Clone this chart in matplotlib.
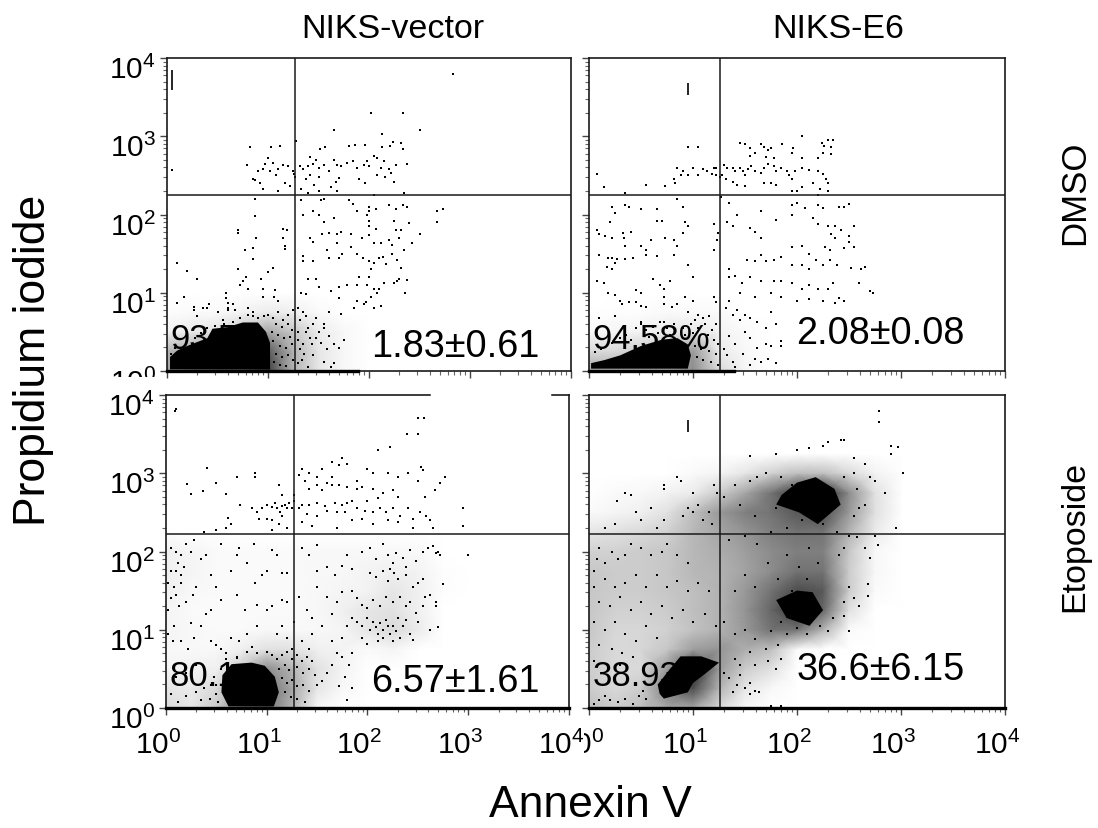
import matplotlib
matplotlib.use('Agg')
import matplotlib.pyplot as plt
from matplotlib.ticker import LogLocator, NullFormatter
from matplotlib.transforms import Bbox, ScaledTranslation
import numpy as np

plt.rcParams['font.family'] = ['Liberation Sans', 'DejaVu Sans']
plt.rcParams['mathtext.fontset'] = 'custom'
plt.rcParams['mathtext.rm'] = 'Liberation Sans'
plt.rcParams['mathtext.default'] = 'rm'

col_titles = ['NIKS-vector', 'NIKS-E6']
row_titles = ['DMSO', 'Etoposide']
x_title = 'Annexin V'
y_title = 'Propidium iodide'
decades = [0, 1, 2, 3, 4]

corner_text = ['93.5', '94.58%', '80.1', '38.93']
early_text = ['1.83±0.61', '2.08±0.08', '6.57±1.61', '36.6±6.15']
gate_x = [1.27, 1.26, 1.27, 1.26]
gate_y = [2.25, 2.25, 2.22, 2.22]
floor_end = [1.89, 1.39, 4.0, 4.0]

dots_a = [(2.83,3.80),(2.02,3.30),(2.34,3.30),(2.50,3.08),(1.65,3.08),(2.13,3.03),(2.24,2.93),(2.32,2.91),(2.34,2.84),
    (2.13,2.86),(2.21,2.87),(0.82,2.86),(1.03,2.86),(1.12,2.87),(1.28,2.94),(1.51,2.84),(1.56,2.86),(1.80,2.88),(1.86,2.89),
    (1.96,2.89),(0.05,2.57),(0.79,2.63),(1.0,2.72),(0.97,2.65),(1.05,2.66),(1.15,2.63),(1.2,2.62),(1.25,2.56),(1.27,2.48),
    (1.26,2.52),(0.9,2.56),(0.95,2.58),(1.02,2.55),(1.08,2.5),(1.1,2.58),(0.85,2.46),(0.87,2.44),(0.92,2.4),(0.95,2.33),
    (1.1,2.3),(1.17,2.4),(1.22,2.36),(1.32,2.62),(1.35,2.58),(1.4,2.62),(1.45,2.65),(1.48,2.7),(1.42,2.74),(1.5,2.6),
    (1.55,2.63),(1.6,2.55),(1.65,2.7),(1.68,2.63),(1.72,2.62),(1.78,2.66),(1.84,2.68),(1.88,2.6),(1.95,2.63),(1.98,2.68),
    (2.0,2.62),(2.08,2.72),(2.15,2.68),(2.05,2.75),(2.2,2.58),(2.27,2.63),(2.38,2.64),(2.12,2.6),(2.16,2.48),(2.08,2.5),
    (1.9,2.45),(1.96,2.4),(2.22,2.53),(1.7,2.47),(1.5,2.48),(1.42,2.5),(1.38,2.45),(1.46,2.38),(1.62,2.35),(1.67,2.42),
    (2.25,2.42),(2.35,2.28),(2.05,2.25),(1.33,2.33),(1.4,2.28),(1.68,2.3),(1.5,2.3),(0.87,2.2),(1.33,2.18),(1.52,2.18),
    (1.55,2.2),(1.8,2.18),(1.84,2.14),(1.88,2.05),(2.0,2.05),(2.0,2.1),(2.07,2.07),(2.2,2.12),(2.27,2.07),(2.34,2.12),
    (2.38,2.09),(2.67,2.05),(2.73,2.07),(2.67,1.9),(2.4,1.89),(2.25,1.92),(2.27,1.8),(2.32,1.8),(2.5,1.75),(1.98,2.0),
    (2.0,1.92),(2.0,1.85),(2.07,1.82),(1.65,1.96),(1.35,2.0),(1.45,2.05),(1.5,2.0),(1.55,1.9),(1.53,1.75),(1.6,1.76),
    (1.42,1.7),(1.45,1.65),(1.68,1.75),(1.72,1.77),(1.82,1.75),(1.93,1.7),(2.0,1.74),(2.05,1.63),(2.12,1.63),(2.2,1.68),
    (2.23,1.61),(2.3,1.7),(2.35,1.55),(2.43,1.63),(1.68,1.63),(1.73,1.5),(1.7,1.45),(1.6,1.45),(1.35,1.47),(1.35,1.4),
    (1.45,1.4),(1.58,1.55),(1.82,1.58),(1.88,1.5),(1.94,1.45),(2.0,1.4),(2.02,1.3),(2.05,1.38),(2.1,1.45),(2.14,1.46),
    (2.17,1.37),(2.23,1.5),(2.28,1.42),(2.32,1.32),(2.28,1.15),(2.25,1.12),(2.3,1.18),(2.38,1.16),(2.36,1.0),(2.15,1.13),
    (2.1,1.05),(2.05,1.05),(2.02,0.95),(2.08,1.0),(1.98,1.1),(2.0,1.2),(1.9,1.2),(1.88,1.1),(1.78,1.1),(1.7,1.07),
    (1.62,1.02),(1.5,1.07),(1.4,1.18),(1.48,1.17),(1.33,1.0),(1.38,0.98),(1.7,0.93),(1.88,0.9),(1.95,0.85),(1.97,0.88),
    (2.05,0.8),(2.12,0.83),(1.85,0.8),(1.72,0.73),(1.6,0.75),(1.55,0.6),(0.87,1.98),(0.7,1.8),(0.7,1.76),(1.15,1.82),
    (1.19,1.8),(0.88,1.7),(1.15,1.7),(1.17,1.6),(1.17,1.56),(0.77,1.55),(0.85,1.57),(0.85,1.43),(1.05,1.32),(1.0,1.27),
    (0.7,1.3),(0.1,1.38),(0.2,1.28),(0.3,1.17),(0.75,1.15),(0.78,1.2),(0.72,1.1),(0.8,1.05),(0.93,1.18),(0.95,1.05),
    (1.07,1.03),(1.06,0.95),(1.1,0.9),(0.58,1.0),(0.58,0.93),(0.6,0.87),(0.17,0.95),(0.1,0.87),(0.27,0.82),(0.27,0.78),
    (0.42,0.85),(0.4,0.8),(0.36,0.8),(0.6,0.8),(0.65,0.85),(0.6,0.78),(0.67,0.78),(0.8,0.8),(0.85,0.75),(0.3,0.7),
    (0.5,0.75),(0.55,0.65),(0.95,0.95),(1.3,0.8),(1.35,0.75),(1.32,0.65),(1.38,0.7),(1.3,0.5),(1.4,0.55),(1.45,0.6),
    (1.5,0.5),(1.35,0.35),(1.42,0.42),(1.6,0.45),(1.65,0.35),(1.7,0.3),(1.58,0.28),(1.45,0.2),(1.55,0.12),(1.65,0.1),
    (1.3,0.1),(1.4,0.05),(1.62,0.05),(1.75,0.4),(1.55,0.55),(1.48,0.68),
    # around the blob
    (1.0,0.72),(1.05,0.68),(1.1,0.75),(1.15,0.65),(1.2,0.72),(1.25,0.78),(1.08,0.6),(1.14,0.56),(1.2,0.6),(1.24,0.52),
    (1.04,0.5),(1.1,0.46),(1.16,0.42),(1.22,0.44),(1.05,0.38),(1.12,0.32),(1.18,0.3),(1.24,0.34),(1.08,0.22),(1.14,0.18),
    (1.2,0.2),(1.25,0.14),(1.06,0.12),(1.12,0.08),(1.18,0.06),(1.32,0.28),(1.36,0.22),(1.3,0.4),(1.38,0.5),(1.44,0.34),
    (1.34,0.14),(1.48,0.42),(1.52,0.36),(0.85,0.7),(0.9,0.68),(0.8,0.72),(0.72,0.68),(0.65,0.62),(0.96,0.7),(0.56,0.6),
    (0.48,0.58),(0.4,0.55),(0.34,0.48),(0.28,0.42),(0.2,0.38),(0.14,0.3),(0.08,0.3),(0.04,0.22),(0.3,0.35),(0.24,0.32)]

dots_b = [(2.05,3.0),(2.3,2.95),(2.35,2.95),(2.33,2.77),(2.33,2.86),(2.24,2.91),(2.26,2.88),(1.96,2.85),(2.05,2.72),(1.75,2.85),
    (1.86,2.9),(1.45,2.92),(1.5,2.9),(1.55,2.85),(1.65,2.9),(1.68,2.86),(1.72,2.82),(1.6,2.78),(1.55,2.75),(1.7,2.74),
    (1.78,2.72),(1.95,2.78),(2.2,2.72),(2.25,2.78),(0.95,2.86),(1.05,2.86),(1.2,2.59),(1.22,2.6),(0.85,2.6),(0.9,2.55),
    (1.0,2.6),(1.1,2.58),(1.13,2.55),(1.18,2.52),(1.22,2.5),(1.26,2.48),(0.88,2.5),(0.95,2.5),(1.05,2.5),(0.82,2.45),
    (0.08,2.52),(0.14,2.35),(0.55,2.38),(0.73,2.36),(0.35,2.27),(0.83,2.4),(1.3,2.63),(1.33,2.6),(1.38,2.6),(1.4,2.55),
    (1.45,2.6),(1.48,2.55),(1.5,2.5),(1.53,2.58),(1.56,2.62),(1.6,2.55),(1.65,2.53),(1.68,2.6),(1.72,2.65),(1.78,2.62),
    (1.8,2.55),(1.85,2.6),(1.9,2.55),(1.92,2.5),(1.95,2.45),(1.98,2.55),(2.05,2.6),(2.12,2.57),(2.28,2.45),(2.2,2.55),
    (2.25,2.52),(2.3,2.4),(2.22,2.33),(1.32,2.45),(1.28,2.5),(1.38,2.42),(1.42,2.38),(1.5,2.36),(1.68,2.4),(1.75,2.4),
    (1.8,2.38),(1.95,2.3),(2.0,2.3),(2.05,2.35),(2.15,2.4),(2.2,2.25),(2.3,2.3),(1.27,2.22),
    (0.9,2.1),(0.85,2.2),(0.65,2.07),(0.5,2.07),(0.35,2.12),(0.22,2.1),(0.25,2.02),(0.38,2.1),(0.65,1.92),(0.7,1.92),
    (0.92,1.9),(0.95,1.85),(0.9,1.76),(1.2,1.88),(1.24,1.76),(1.23,1.67),(0.2,1.9),(0.08,1.8),(0.1,1.75),(0.15,1.72),
    (0.22,1.7),(0.33,1.76),(0.4,1.78),(0.34,1.7),(0.35,1.6),(0.5,1.6),(0.6,1.67),(0.55,1.55),(0.73,1.7),(0.82,1.68),
    (0.85,1.6),(0.1,1.48),(0.18,1.45),(0.22,1.45),(0.27,1.43),(0.17,1.33),(0.22,1.3),(0.25,1.38),(0.35,1.43),(0.42,1.45),
    (0.55,1.48),(0.65,1.47),(0.82,1.48),(0.95,1.35),(1.0,1.2),(1.2,1.55),(0.62,1.18),(0.68,1.1),(0.72,1.05),(0.78,1.15),
    (0.45,1.03),(0.5,1.0),(0.72,0.95),(0.08,1.15),(0.14,1.12),(0.18,1.0),(0.25,0.97),(0.3,0.9),(0.32,0.85),(0.38,0.88),
    (0.45,0.88),(0.5,0.83),(0.55,0.82),(0.72,0.85),(0.8,0.82),(0.85,0.85),(0.92,0.95),(1.0,0.9),(1.2,0.95),(1.22,0.88),
    (0.95,0.75),(1.05,0.72),(1.1,0.68),(1.02,0.65),(1.15,0.7),(0.1,0.68),(0.25,0.7),(0.5,0.62),(0.72,0.62),(1.22,0.6),
    (1.35,2.15),(1.42,2.0),(1.33,1.9),(1.38,1.85),(1.55,1.83),(1.6,1.77),(1.65,1.7),(1.65,2.05),(1.8,1.93),(1.95,2.0),
    (1.95,2.12),(2.0,2.15),(2.08,2.08),(2.2,2.12),(2.25,2.08),(2.4,2.1),(2.45,2.1),(2.5,2.13),(2.15,1.95),(2.2,1.88),
    (2.3,1.85),(2.37,1.85),(2.42,1.8),(2.55,1.85),(2.33,1.75),(2.37,1.7),(2.5,1.72),(2.5,1.65),(2.45,1.57),(2.55,1.58),
    (2.27,1.58),(2.32,1.55),(2.05,1.6),(2.12,1.5),(1.95,1.58),(1.65,1.48),(1.52,1.42),(1.6,1.4),(1.7,1.4),(1.78,1.42),
    (1.85,1.46),(1.95,1.35),(2.05,1.35),(2.12,1.3),(2.18,1.42),(2.25,1.35),(2.32,1.42),(2.38,1.35),(2.52,1.32),(2.62,1.3),
    (2.65,1.33),(1.35,1.3),(1.35,1.2),(1.4,1.22),(1.47,1.12),(1.55,1.2),(1.65,1.15),(1.78,1.15),(1.85,1.15),(1.95,1.12),
    (2.05,1.05),(2.12,1.1),(2.2,1.05),(2.3,1.05),(2.35,1.12),(2.4,0.93),(2.45,0.9),(2.6,1.12),(2.7,1.02),(2.73,1.0),
    (1.35,0.9),(1.45,1.0),(1.6,0.95),(1.75,1.0),(1.85,0.95),(2.0,0.9),(2.12,0.92),(2.25,0.9),(2.37,0.87),
    (1.32,0.8),(1.38,0.72),(1.42,0.78),(1.5,0.72),(1.45,0.65),(1.55,0.68),(1.62,0.62),(1.75,0.75),(1.7,0.55),(1.8,0.6),
    (1.5,0.5),(1.55,0.42),(1.35,0.45),(1.4,0.35),(1.48,0.22),(1.62,0.3),(1.7,0.35),(1.75,0.32),(1.85,0.38),(1.85,0.32),
    (1.6,0.15),(1.65,0.12),(1.72,0.15),(1.8,0.1),(1.55,0.08),(1.4,0.05),
    # around the blob
    (0.45,0.55),(0.5,0.6),(0.55,0.52),(0.62,0.56),(0.68,0.62),(0.75,0.55),(0.82,0.6),(0.9,0.55),(0.98,0.6),(1.05,0.55),
    (1.12,0.6),(1.18,0.52),(1.0,0.48),(1.06,0.42),(1.14,0.46),(1.2,0.4),(1.24,0.34),(1.02,0.32),(1.08,0.28),(1.15,0.26),
    (1.22,0.22),(1.04,0.18),(1.1,0.14),(1.17,0.12),(1.24,0.08),(1.3,0.28),(1.33,0.2),(1.38,0.12),(0.3,0.42),(0.36,0.46),
    (0.22,0.36),(0.12,0.28),(0.06,0.24),(0.4,0.4),(0.58,0.44),(0.66,0.48),(0.78,0.46),(0.92,0.46)]

dots_c = [(0.09,3.8),(0.1,3.82),(2.56,3.7),(2.5,3.7),(2.39,3.5),(2.5,3.5),(2.1,3.3),(2.22,3.33),(2.55,3.04),(2.53,3.08),(1.75,3.2),(1.72,3.1),
    (1.65,3.15),(1.8,3.12),(1.6,2.87),(1.65,2.95),(1.9,2.9),(2.0,3.05),(2.05,3.0),(2.2,3.0),(2.3,2.95),(2.4,3.0),(2.5,2.9),
    (2.72,2.88),(2.77,2.95),(2.67,2.78),(2.57,2.7),(2.95,2.55),(2.95,2.32),(2.65,2.3),(0.41,3.07),(0.88,3.0),(0.88,2.95),
    (0.7,2.95),(0.5,2.88),(0.21,2.86),(0.25,2.73),(0.37,2.77),(0.6,2.73),(1.12,2.85),(1.15,2.72),(0.73,2.6),(0.85,2.55),
    (0.9,2.5),(0.95,2.55),(1.0,2.6),(1.05,2.57),(1.08,2.62),(1.1,2.55),(1.13,2.5),(1.15,2.58),(1.18,2.6),(1.2,2.55),
    (1.22,2.62),(1.25,2.55),(1.27,2.65),(1.27,2.72),(0.92,2.42),(1.0,2.42),(1.05,2.4),(1.12,2.35),(1.15,2.45),(0.62,2.43),
    (0.38,2.25),(0.5,2.28),(0.6,2.3),(0.65,2.35),(1.05,2.28),(1.2,2.3),
    (1.32,2.98),(1.35,3.05),(1.42,3.0),(1.5,2.95),(1.55,3.05),(1.38,2.9),(1.42,2.8),(1.5,2.85),(1.55,2.78),(1.65,2.85),
    (1.72,2.85),(1.8,2.82),(1.9,2.8),(1.95,2.82),(2.05,2.8),(2.15,2.75),(2.25,2.78),(2.3,2.7),(2.1,2.68),(2.0,2.65),
    (1.85,2.65),(1.8,2.62),(1.75,2.6),(1.68,2.62),(1.58,2.58),(1.5,2.62),(1.42,2.6),(1.35,2.6),(1.32,2.55),(1.4,2.48),
    (1.5,2.45),(1.6,2.52),(1.7,2.5),(1.78,2.5),(1.9,2.55),(1.98,2.52),(2.05,2.5),(2.12,2.55),(2.18,2.5),(2.25,2.55),
    (2.32,2.45),(2.4,2.55),(2.45,2.42),(2.52,2.5),(2.3,2.38),(2.2,2.4),(2.05,2.35),(1.95,2.42),(1.85,2.4),(1.7,2.3),
    (1.45,2.32),(1.35,2.38),(2.45,2.3),(2.62,2.4),(2.58,2.45),
    (0.05,2.05),(0.1,2.0),(0.15,1.95),(0.2,2.1),(0.25,2.0),(0.28,2.15),(0.12,1.85),(0.18,1.8),(0.1,1.75),(0.15,1.7),(0.05,1.75),
    (0.02,1.6),(0.08,1.55),(0.15,1.6),(0.1,1.45),(0.05,1.4),(0.13,1.3),(0.02,1.25),(0.2,1.35),(0.27,1.45),(0.3,1.55),
    (0.35,1.9),(0.4,1.95),(0.45,1.7),(0.5,1.55),(0.55,1.38),(0.45,1.25),(0.65,1.75),(0.7,1.95),(0.72,2.05),(0.55,2.1),
    (0.8,1.85),(0.88,1.6),(0.95,1.7),(1.0,1.75),(1.15,1.72),(1.2,1.72),(1.1,1.95),(1.05,2.02),(0.87,2.1),(1.15,1.38),
    (1.05,1.3),(1.2,1.35),(1.27,1.1),(1.0,1.25),(0.9,1.32),(0.78,1.25),(0.7,1.45),(0.4,1.2),(0.35,1.05),(0.25,1.08),
    (0.08,1.05),(0.02,0.95),(0.07,0.85),(0.15,0.85),(0.22,0.75),(0.28,0.9),(0.45,0.85),(0.5,0.8),(0.55,0.75),(0.65,0.9),
    (0.72,0.85),(0.8,0.95),(0.85,0.78),(0.9,1.05),(1.1,0.95),(1.15,1.05),(1.2,0.9),(1.25,0.75),(0.6,0.7),(0.7,0.65),
    (0.3,0.55),(0.2,0.45),(0.1,0.4),(0.05,0.18),(0.12,0.08),(0.2,0.15),(0.3,0.2),(0.35,0.1),(0.45,0.3),
    (1.35,2.05),(1.5,2.08),(1.42,1.95),(1.5,1.75),(1.6,1.8),(1.68,1.7),(1.75,1.82),(1.8,1.95),(1.85,1.78),(1.95,2.0),
    (2.02,2.05),(2.08,1.9),(2.15,2.1),(2.2,1.95),(2.25,1.85),(2.28,1.98),(2.35,1.92),(2.38,1.8),(2.42,2.02),(2.48,1.88),
    (2.55,2.0),(2.6,2.05),(2.65,2.07),(2.68,1.98),(2.7,2.0),(2.72,1.95),(3.0,1.95),(2.75,1.58),(2.68,1.35),(2.68,1.3),
    (2.02,1.72),(2.08,1.68),(2.15,1.75),(2.2,1.62),(2.26,1.72),(2.22,1.78),(2.3,1.65),(2.38,1.7),(2.45,1.55),(2.5,1.6),(2.57,1.42),
    (2.62,1.45),(2.55,1.65),(1.5,1.55),(1.6,1.42),(1.7,1.35),(1.75,1.48),(1.85,1.5),(1.9,1.4),(1.95,1.32),(2.0,1.28),
    (2.05,1.38),(2.12,1.3),(2.18,1.42),(2.25,1.35),(2.32,1.42),(2.38,1.3),(2.42,1.35),(2.48,1.22),(2.55,1.3),(2.5,1.1),
    (2.62,1.0),(2.7,1.03),(1.32,1.42),(1.4,1.25),(1.45,1.15),(1.55,1.05),(1.65,1.2),(1.8,1.05),(1.85,1.15),(1.9,1.1),
    (1.95,1.05),(2.0,1.15),(2.02,1.0),(2.05,1.1),(2.08,1.03),(2.1,0.95),(2.12,1.08),(2.15,1.0),(2.18,1.12),(2.2,1.05),
    (2.22,0.95),(2.25,1.05),(2.28,0.98),(2.3,1.15),(2.32,0.9),(2.35,1.05),(2.38,1.12),(2.42,0.95),(2.45,0.87),(2.1,0.85),
    (2.0,0.82),(1.95,0.9),(2.15,0.9),(2.25,0.85),(1.75,0.9),(1.65,0.85),(1.45,0.95),(1.35,0.85),(1.42,0.75),
    (1.7,0.7),(1.75,0.65),(1.85,0.7),(1.82,0.55),(1.65,0.55),(1.6,0.45),(1.78,0.4),(1.72,0.28),(1.85,0.25),(1.9,0.0),(1.8,0.1),
    # around the blob
    (0.8,0.72),(0.9,0.7),(1.0,0.72),(1.05,0.68),(1.1,0.62),(1.15,0.68),(1.2,0.72),(1.25,0.62),(1.3,0.68),(1.35,0.6),(1.4,0.65),(1.45,0.6),
    (1.12,0.5),(1.18,0.55),(1.22,0.48),(1.3,0.52),(1.36,0.45),(1.42,0.5),(1.48,0.42),(1.15,0.38),(1.2,0.32),(1.25,0.36),(1.3,0.28),(1.36,0.3),
    (1.42,0.22),(1.18,0.2),(1.24,0.14),(1.3,0.12),(1.38,0.08),(1.5,0.3),(1.55,0.35),(0.5,0.18),(0.44,0.12),(0.38,0.25),(0.5,0.3),(0.52,0.08),
    (0.55,0.5),(0.6,0.62),(0.7,0.64),(0.48,0.4)]

dots_d = [(2.79,3.8),(2.79,3.65),(2.9,3.35),(2.97,3.33),(2.9,3.25),(3.02,3.0),(2.42,3.42),(2.45,3.43),(2.25,3.35),(2.3,3.4),
    (2.0,3.3),(2.12,3.32),(1.55,3.22),(1.8,3.25),(2.55,3.2),(2.65,3.12),(2.55,3.0),(2.7,2.95),(2.75,2.9),(2.85,2.75),
    (0.35,2.75),(0.27,2.65),(0.4,2.72),(0.72,2.85),(0.85,2.95),(0.88,2.9),(0.72,2.8),(1.0,2.75),(1.2,2.85),(1.23,2.75),
    (0.5,2.4),(0.45,2.5),(0.25,2.35),(0.15,2.3),(0.72,2.4),(0.6,2.55),(0.65,2.3),(1.15,2.5),(1.0,2.5),(1.05,2.6),
    (0.9,2.45),(0.95,2.55),(1.1,2.4),(1.18,2.35),(1.3,2.7),(1.4,2.85),(1.55,2.9),(1.62,2.95),(1.7,3.0),(1.85,2.95),
    (2.95,2.3),(2.75,2.2),(2.78,2.08),(2.65,2.05),(2.7,1.92),(2.68,1.58),(2.68,1.43),(2.6,1.3),(2.5,0.98),(2.45,1.18),
    (0.1,2.05),(0.22,2.0),(0.08,1.9),(0.05,1.75),(0.15,1.85),(0.28,1.9),(0.35,1.95),(0.4,2.1),(0.5,2.05),(0.6,1.95),
    (0.7,2.0),(0.75,2.1),(0.85,1.95),(0.95,1.85),(0.05,1.55),(0.15,1.65),(0.25,1.55),(0.35,1.6),(0.45,1.7),(0.55,1.55),
    (0.65,1.7),(0.75,1.55),(0.85,1.62),(0.95,1.5),(1.05,1.6),(1.15,1.5),(0.1,1.35),(0.2,1.3),(0.3,1.42),(0.4,1.25),
    (0.5,1.35),(0.6,1.2),(0.7,1.3),(0.8,1.15),(0.9,1.25),(1.0,1.1),(1.12,1.2),(0.05,1.1),(0.15,1.0),(0.25,1.1),(0.35,0.95),
    (0.45,0.85),(0.55,1.05),(0.65,0.9),(0.1,0.8),(0.22,0.75),(0.32,0.7),(0.05,0.6),(0.18,0.5),(0.3,0.55),(0.42,0.65),
    (0.1,0.1),(0.15,0.15),(0.2,0.1),(0.28,0.08),(0.35,0.12),(0.42,0.05),(0.05,0.05),(0.48,0.15),(0.52,0.22),(0.55,0.12),
    (1.3,0.45),(1.35,0.38),(1.42,0.3),(1.45,0.42),(1.5,0.25),(1.38,0.2),(1.55,0.32),(1.6,0.22),(1.55,0.18),(1.63,0.2),
    (1.85,0.02),(1.75,0.02),(1.45,0.55),(1.6,0.55),(1.72,0.6),(1.8,0.5),(1.85,0.62),(1.4,0.62),(1.55,0.72),(1.7,0.75),
    (1.82,0.8),(1.9,0.95),(2.0,1.02),(2.1,0.95),(2.3,0.98),(2.22,1.05),(2.35,1.15),(2.45,1.35),(2.5,1.55),(2.55,1.4),
    (2.4,1.95),(2.45,2.05),(2.38,2.25),(2.5,2.2),(2.58,2.18),(2.55,2.45),(2.6,2.55),(2.65,2.6),(2.58,2.8),(2.45,2.95),
    (1.22,1.05),(1.3,1.1),(1.4,0.95),(1.5,1.0),(1.6,0.88),(1.75,0.98),(1.85,1.1),(1.95,1.5),(2.1,1.65),(2.2,1.85),
    (1.4,1.5),(1.5,1.7),(1.6,1.55),(1.72,1.85),(1.82,1.65),(1.9,1.95),(2.02,1.8),(2.12,2.05),(2.25,2.35),(1.35,2.15),
    (1.5,2.2),(1.62,2.1),(1.75,2.25),(1.9,2.3),(2.05,2.4),(2.3,2.5),(1.45,2.6),(1.6,2.45),(1.8,2.55),(1.95,2.85),(2.1,2.9)]

# solid black cores of each plot, as outlines
core_a = [(0.03,0.02),(1.02,0.02),(1.02,0.36),(0.98,0.5),(0.9,0.62),(0.75,0.62),(0.6,0.56),(0.45,0.54),(0.4,0.42),(0.2,0.32),(0.1,0.26),(0.03,0.18)]
core_b = [(0.02,0.03),(0.95,0.03),(0.98,0.2),(0.95,0.34),(0.85,0.42),(0.7,0.4),(0.5,0.32),(0.3,0.2),(0.15,0.14),(0.02,0.1)]
core_c = [(0.62,0.02),(1.07,0.02),(1.12,0.2),(1.08,0.4),(0.98,0.54),(0.85,0.58),(0.65,0.56),(0.56,0.42),(0.55,0.2)]
core_d = [(0.72,0.12),(0.95,0.2),(1.0,0.32),(1.1,0.42),(1.25,0.58),(1.08,0.66),(0.88,0.66),(0.78,0.5),(0.66,0.3),(0.68,0.18)]
core_d2 = [(2.02,2.5),(2.2,2.35),(2.42,2.6),(2.36,2.8),(2.18,2.95),(2.0,2.88),(1.85,2.72),(1.8,2.6)]
core_d3 = [(1.9,1.15),(2.12,1.05),(2.25,1.25),(2.15,1.48),(2.0,1.5),(1.8,1.38)]

# rough dot density on a 0.25 decade grid where the dots are too many to pick out one by one
haze_x = [0, 0.25, 0.5, 0.75, 1, 1.25, 1.5, 1.75, 2, 2.25, 2.5, 2.75, 3]
haze_y = [0, 0.25, 0.5, 0.75, 1, 1.25, 1.5, 1.75, 2, 2.25, 2.5, 2.75, 3, 3.25]
haze_a = [[.35, .45, .55, .55, .75, .3, .10, .03, 0, 0, 0, 0, 0],
          [.30, .35, .50, .55, .65, .3, .10, .03, 0, 0, 0, 0, 0],
          [.05, .08, .12, .22, .35, .22, .08, .03, 0, 0, 0, 0, 0],
          [.01, .02, .02, .05, .08, .06, .02, 0, 0, 0, 0, 0, 0],
          [0, 0, 0, 0, 0, 0, 0, 0, 0, 0, 0, 0, 0]]
haze_b = [[.35, .35, .35, .35, .45, .15, .04, 0, 0, 0, 0, 0, 0],
          [.15, .15, .2, .25, .4, .08, .03, 0, 0, 0, 0, 0, 0],
          [.02, .04, .05, .08, .1, .05, .02, 0, 0, 0, 0, 0, 0],
          [0, .01, .01, .02, .02, .02, 0, 0, 0, 0, 0, 0, 0],
          [0, 0, 0, 0, 0, 0, 0, 0, 0, 0, 0, 0, 0]]
haze_c = [[.15, .1, .2, .45, .55, .3, .03, 0, 0, 0, 0, 0, 0],
          [.1, .08, .15, .35, .55, .35, .1, .03, 0, 0, 0, 0, 0],
          [.04, .05, .06, .2, .45, .3, .12, .05, 0, 0, 0, 0, 0],
          [.03, .03, .03, .06, .12, .12, .06, .05, .02, .04, 0, 0, 0],
          [.04, .03, .02, .02, .03, .03, .03, .04, .1, .15, .08, 0, 0],
          [.04, .02, .02, .02, .02, .02, .03, .06, .1, .12, .06, 0, 0],
          [.06, .03, .02, .02, .02, .02, .03, .04, .05, .1, .06, .01, 0],
          [.06, .04, .02, .02, .02, .02, .03, .03, .05, .06, .05, .01, 0],
          [.06, .04, .02, .02, .02, .02, .03, .03, .03, .03, .03, 0, 0],
          [0, 0, 0, 0, 0, 0, 0, 0, 0, 0, 0, 0, 0]]
haze_d = [[.25, .2, .25, .35, .35, .15, .03, 0, 0, 0, 0, 0, 0],
          [.2, .15, .2, .5, .7, .3, .1, .03, 0, 0, 0, 0, 0],
          [.2, .15, .15, .4, .85, .4, .2, .12, 0, 0, 0, 0, 0],
          [.2, .15, .16, .22, .38, .42, .32, .25, .02, 0, 0, 0, 0],
          [.22, .16, .16, .18, .24, .3, .4, .55, .55, .3, .02, 0, 0],
          [.22, .18, .18, .2, .25, .3, .42, .6, .8, .6, .12, 0, 0],
          [.22, .2, .2, .22, .25, .3, .4, .55, .7, .65, .2, .02, 0],
          [.22, .2, .2, .22, .28, .3, .36, .45, .55, .55, .2, .03, 0],
          [.18, .18, .2, .22, .28, .32, .38, .45, .5, .5, .22, .03, 0],
          [.1, .12, .15, .18, .28, .35, .42, .5, .55, .55, .3, .08, 0],
          [.02, .04, .06, .12, .25, .4, .5, .55, .65, .7, .4, .12, .01],
          [0, .02, .03, .05, .08, .2, .35, .55, .75, .85, .45, .12, .01],
          [0, 0, 0, 0, .02, .04, .1, .18, .25, .25, .15, .05, .01],
          [0, 0, 0, 0, 0, 0, 0, 0, 0, 0, 0, 0, 0]]

# stray marks in the top left corner of the plots that have one
stray_x = [0.05, 0.955, None, 0.955]
stray_y = [3.72, 3.6, None, 3.6]
stray_len = [15, 9, 0, 9]

panel_px = [(167, 571, 59, 372), (589, 1005, 59, 372), (166, 569, 396, 709), (589, 1005, 396, 709)]
early_pos = [(0.713, 0.08), (0.70, 0.12), (0.717, 0.085), (0.70, 0.125)]
W, H = 1098, 829
ink = '#1a1a1a'

fig = plt.figure(figsize=(W / 100, H / 100), dpi=100)
up = ScaledTranslation(0, 3 / 100, fig.dpi_scale_trans)
left = ScaledTranslation(-8 / 100, 0, fig.dpi_scale_trans)

panels = [(dots_a, [core_a], haze_a), (dots_b, [core_b], haze_b), (dots_c, [core_c], haze_c), (dots_d, [core_d, core_d2, core_d3], haze_d)]
for i, (dots, cores, haze) in enumerate(panels):
    l, r, t, b = panel_px[i]
    ax = fig.add_axes([l / W, 1 - b / H, (r - l) / W, (b - t) / H])
    ax.set_xscale('log')
    ax.set_yscale('log')

    # corner text goes under the dots, the blobs eat parts of it
    ax.text(0.008, 0.105, corner_text[i], transform=ax.transAxes, fontsize=25, ha='left', va='center', zorder=2.5)
    ax.text(early_pos[i][0], early_pos[i][1], early_text[i], transform=ax.transAxes, fontsize=27.3, ha='center', va='center', zorder=6)

    hz = np.array(haze)
    hx = 10.0 ** np.array(haze_x)
    hy = 10.0 ** np.array(haze_y[:hz.shape[0]])
    ax.pcolormesh(hx, hy, hz, cmap='gray_r', vmin=0, vmax=1, shading='gouraud', zorder=2)

    for core in cores:
        c = np.array(core)
        ax.fill(10.0 ** c[:, 0], 10.0 ** c[:, 1], color='black', lw=0, zorder=3)

    pts = np.array(dots)
    ax.scatter(10.0 ** pts[:, 0], 10.0 ** pts[:, 1], s=1.6, marker='s', color='black', linewidths=0, zorder=3)
    if stray_x[i] is not None:
        ax.plot(10.0 ** stray_x[i], 10.0 ** stray_y[i], marker='|', ms=stray_len[i], mew=1.2, color='black', zorder=3)

    ax.axvline(10.0 ** gate_x[i], color=ink, lw=1.1, zorder=4)
    ax.axhline(10.0 ** gate_y[i], color=ink, lw=1.1, zorder=4)
    ax.plot([1, 10.0 ** floor_end[i]], [1, 1], color='black', lw=2.4, clip_on=False, zorder=5)

    ax.set_xlim(1, 1e4)
    ax.set_ylim(1, 1e4)
    ax.set_xticks([10.0 ** d for d in decades])
    ax.set_yticks([10.0 ** d for d in decades])
    for axis in (ax.xaxis, ax.yaxis):
        axis.set_minor_locator(LogLocator(base=10, subs=np.arange(2, 10), numticks=12))
        axis.set_minor_formatter(NullFormatter())
    ax.tick_params(which='major', length=5, width=1, color='#444444', labelsize=21.5)
    ax.tick_params(which='minor', length=3, width=0.8, color='#666666')
    for s in ax.spines.values():
        s.set_linewidth(1.2)
        s.set_color(ink)

    ax.tick_params(axis='x', labelbottom=i >= 2, pad=11)
    ax.tick_params(axis='y', labelleft=i in (0, 2), pad=3)
    ax.set_xticklabels([rf'$10^{{{d}}}$' for d in decades])
    ax.set_yticklabels([rf'$10^{{{d}}}$' for d in decades])

    for lab in ax.get_yticklabels():
        lab.set_verticalalignment('top')
        lab.set_transform(lab.get_transform() + up)
    for lab in ax.get_xticklabels():
        lab.set_transform(lab.get_transform() + left)

    # neighbouring panels cover these labels in the original figure
    if i == 0:
        ax.get_yticklabels()[0].set_clip_box(Bbox.from_extents(0, H - 378, W, H))
        ax.get_yticklabels()[0].set_clip_on(True)
    if i == 3:
        ax.get_xticklabels()[0].set_clip_box(Bbox.from_extents(584, 0, W, H))
        ax.get_xticklabels()[0].set_clip_on(True)
    if i == 2:
        # the top frame line is missing over this stretch
        ax.plot([0.66, 0.95], [1, 1], transform=ax.transAxes, color='white', lw=2.5, clip_on=False, zorder=7)

fig.text(393 / W, 1 - 29 / H, col_titles[0], fontsize=24.5, ha='center', va='center')
fig.text(838 / W, 1 - 29 / H, col_titles[1], fontsize=24.5, ha='center', va='center')
fig.text(1075 / W, 1 - 193 / H, row_titles[0], fontsize=25, rotation=90, ha='center', va='center')
fig.text(1075 / W, 1 - 536 / H, row_titles[1], fontsize=24.5, rotation=90, ha='center', va='center')
fig.text(590 / W, 1 - 806 / H, x_title, fontsize=32, ha='center', va='center')
fig.text(34 / W, 1 - 360 / H, y_title, fontsize=32, rotation=90, ha='center', va='center')

fig.savefig('out.png', dpi=100)
